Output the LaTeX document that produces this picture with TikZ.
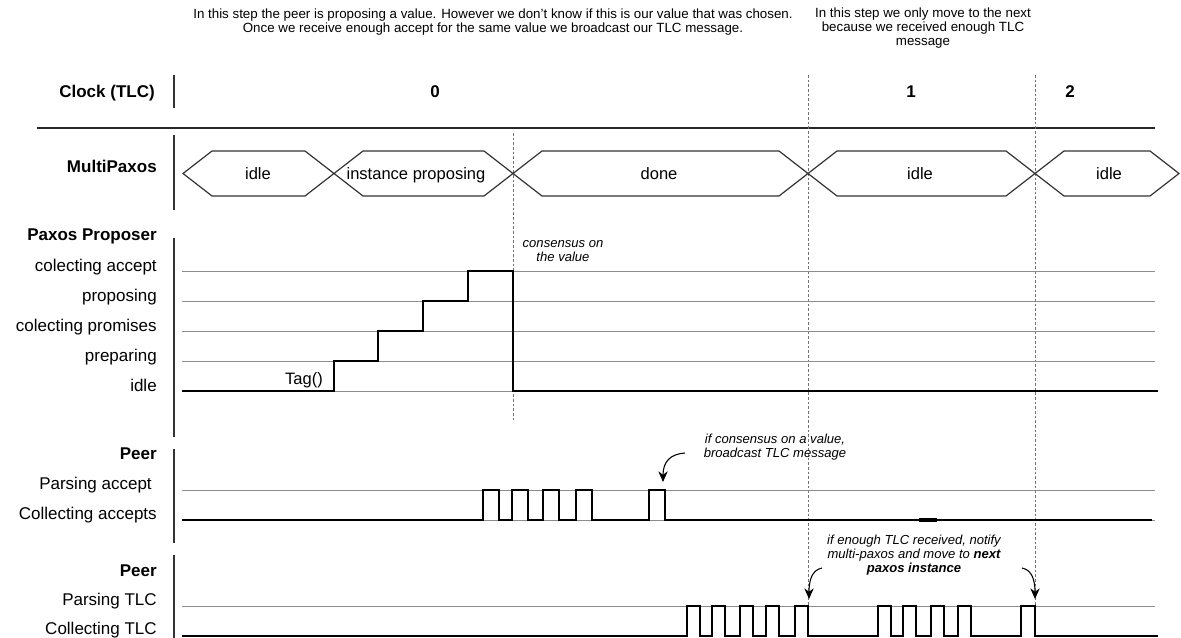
\documentclass[tikz,border=0pt]{standalone}
\usepackage{fontspec}
\setmainfont{Liberation Sans}
\usetikzlibrary{arrows.meta}

\begin{document}
\begin{tikzpicture}[x=0.75pt, y=-0.75pt,
  lbl/.style={anchor=base east, inner sep=0pt, font=\fontsize{12.75}{15}\selectfont},
  hdr/.style={anchor=base east, inner sep=0pt, font=\fontsize{12.75}{15}\selectfont\bfseries},
  clocknum/.style={inner sep=0pt, font=\fontsize{12.75}{15}\selectfont\bfseries},
  note/.style={align=center, inner sep=0pt, font=\fontsize{10}{10.5}\selectfont},
  remark/.style={align=center, inner sep=0pt, font=\fontsize{9.8}{10.6}\selectfont\itshape},
  bustext/.style={anchor=base, inner sep=0pt, font=\fontsize{12.4}{15}\selectfont},
  sig/.style={line width=1.8pt, black},
  lvl/.style={line width=0.5pt, black!45},
  bar/.style={line width=2pt, black!80},
  bus/.style={line width=0.9pt, black!80},
  tickline/.style={line width=0.5pt, black!55, dash pattern=on 2pt off 1.5pt},
  callout/.style={-{Stealth[length=8pt,width=7pt]}, line width=0.8pt}
]

\useasboundingbox (0,0) rectangle (1181,638);

% --- Configuration ---
\def\busTop{151}
\def\busBot{196}
\def\busMid{173.5}
\def\xStart{182}
\def\xEnd{1155}

% --- Notes on top ---
\node[note] (noteZero) at (493,22) {In this step the peer is proposing a value. However we don't know if this is our value that was chosen.\\Once we receive enough accept for the same value we broadcast our TLC message.};
\node[note] (noteOne) at (923,28) {In this step we only move to the next\\because we received enough TLC\\message};

% --- Clock (TLC) ---
\node[hdr] (clockLbl) at (155,98) {Clock (TLC)};
\draw[bar] (174,75) -- (174,108);
\node[clocknum] (clockZero) at (435,92) {0};
\node[clocknum] (clockOne) at (911,92) {1};
\node[clocknum] (clockTwo) at (1070,92) {2};
\draw[line width=1.6pt, black!85] (37,128) -- (\xEnd,128);

% Clock edges
\draw[tickline] (513,133) -- (513,422);
\draw[tickline] (808,75) -- (808,606);
\draw[tickline] (1035,75) -- (1035,606);

% --- MultiPaxos ---
\node[hdr] (mpLbl) at (157,173) {MultiPaxos};
\draw[bar] (174,135) -- (174,210);
\foreach \a/\b in {183/334, 334/513, 513/808, 808/1035, 1035/1179} {
    \draw[bus] (\a,\busMid) -- (\a+29,\busTop) -- (\b-29,\busTop) -- (\b,\busMid)
        -- (\b-29,\busBot) -- (\a+29,\busBot) -- cycle;
}
\node[bustext] (mpIdle) at (258,\busMid+6) {idle};
\node[bustext] (mpProposing) at (416,\busMid+6) {instance proposing};
\node[bustext] (mpDone) at (659,\busMid+6) {done};
\node[bustext] (mpIdleOne) at (920,\busMid+6) {idle};
\node[bustext] (mpIdleTwo) at (1109,\busMid+6) {idle};

% --- Paxos Proposer ---
\node[hdr] (ppLbl) at (157,240) {Paxos Proposer};
\draw[bar] (174,238) -- (174,437);
\node[lbl] (ppAccept) at (157,271) {colecting accept};
\node[lbl] (ppProposing) at (157,301) {proposing};
\node[lbl] (ppPromises) at (157,331) {colecting promises};
\node[lbl] (ppPreparing) at (157,361) {preparing};
\node[lbl] (ppIdle) at (157,391) {idle};
\foreach \y in {271,301,331,361,391}
    \draw[lvl] (\xStart,\y) -- (\xEnd,\y);
\draw[sig] (\xStart,391) -| (334,361) -| (378,331) -| (423,301) -| (468,271) -| (513,391) -- (1158,391);
\node[bustext] (tagCall) at (304,384) {Tag()};
\node[remark] (consensusNote) at (563,251) {consensus on\\the value};

% --- Peer (accepts) ---
\node[hdr] (peerAccLbl) at (157,459) {Peer};
\draw[bar] (174,449) -- (174,543);
\node[lbl] (peerParsing) at (152,489) {Parsing accept};
\node[lbl] (peerCollecting) at (157,519) {Collecting accepts};
\foreach \y in {490,520}
    \draw[lvl] (\xStart,\y) -- (\xEnd,\y);
\draw[sig] (\xStart,520) \foreach \x in {483,512,543,576,649} {
    -- (\x,520) -- (\x,490) -- (\x+16,490) -- (\x+16,520) } -- (1152,520);
\draw[line width=2.6pt] (919,520) -- (937,520);
\node[remark] (broadcastNote) at (775,447) {if consensus on a value,\\broadcast TLC message};
\coordinate (ackFrom) at (685,453);
\coordinate (ackTip) at (663,482);
\draw[callout] (ackFrom) .. controls (670,454) and (663,462) .. (ackTip);

% --- Peer (TLC) ---
\node[hdr] (peerTlcLbl) at (157,576) {Peer};
\draw[bar] (174,555) -- (174,640);
\node[lbl] (tlcParsing) at (157,605) {Parsing TLC};
\node[lbl] (tlcCollecting) at (157,634) {Collecting TLC};
\draw[lvl] (\xStart,606) -- (\xEnd,606);
\draw[sig] (\xStart,636) \foreach \x/\w in {687/13,712/13,740/13,766/13,795/13,878/13,903/13,931/13,958/13,1021/14} {
    -- (\x,636) -- (\x,606) -- (\x+\w,606) -- (\x+\w,636) } -- (1158,636);
\node[remark] (nextNote) at (914,555) {if enough TLC received, notify\\multi-paxos and move to \textbf{next}\\\textbf{paxos instance}};
\coordinate (tlcFromL) at (822,568);
\coordinate (tlcTipL) at (809,599);
\coordinate (tlcFromR) at (1022,568);
\coordinate (tlcTipR) at (1035,599);
\draw[callout] (tlcFromL) .. controls (812,570) and (809,580) .. (tlcTipL);
\draw[callout] (tlcFromR) .. controls (1032,570) and (1035,580) .. (tlcTipR);

\end{tikzpicture}
\end{document}
